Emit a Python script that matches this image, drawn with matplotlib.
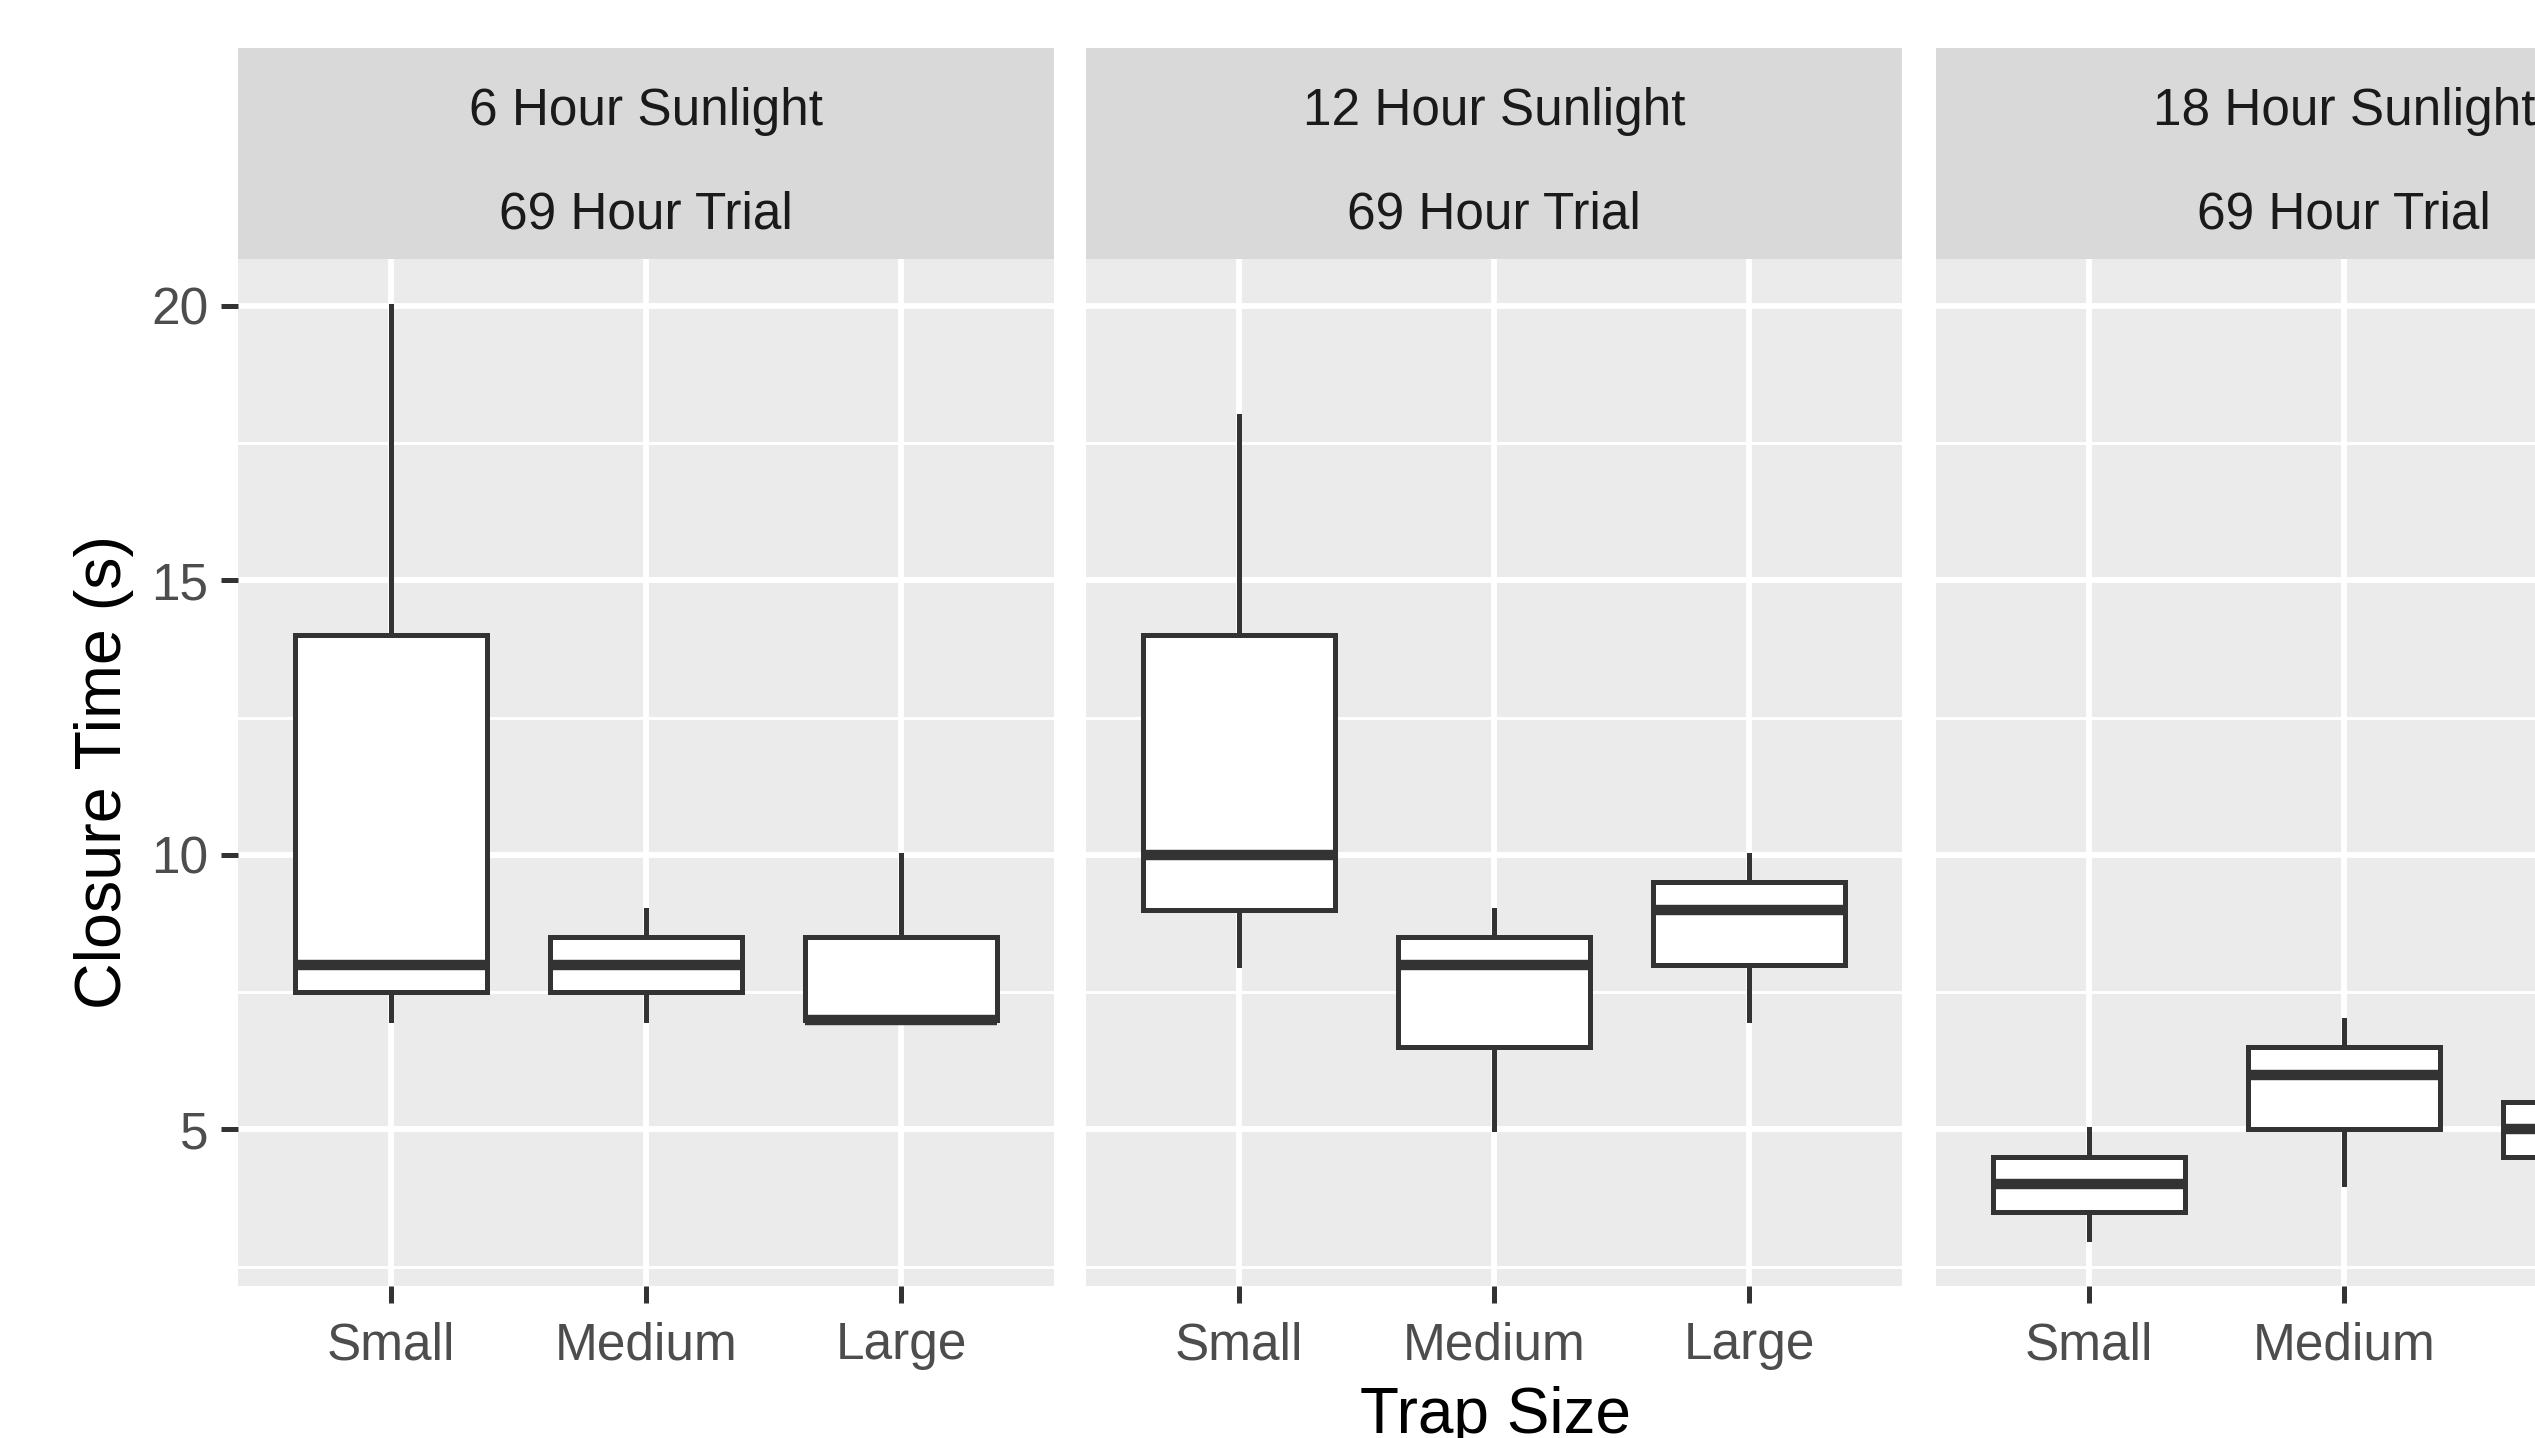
import matplotlib
matplotlib.use("Agg")
import matplotlib.pyplot as plt

plt.rcParams['font.family'] = ['Liberation Sans', 'DejaVu Sans']

# -------------------- DATA --------------------
sizes = ["Small", "Medium", "Large"]
sunlight = ["6 Hour Sunlight", "12 Hour Sunlight", "18 Hour Sunlight"]
trial = "69 Hour Trial"

# box stats per panel, one value per trap size
whislo = [[7, 7, 7], [8, 5, 7], [3, 4, 4]]
q1 = [[7.5, 7.5, 7], [9, 6.5, 8], [3.5, 5, 4.5]]
med = [[8, 8, 7], [10, 8, 9], [4, 6, 5]]
q3 = [[14, 8.5, 8.5], [14, 8.5, 9.5], [4.5, 6.5, 5.5]]
whishi = [[20, 9, 10], [18, 9, 10], [5, 7, 6]]

y_ticks = [5, 10, 15, 20]
y_minor = [2.5, 7.5, 12.5, 17.5]

# -------------------- STYLE --------------------
W, H = 2535, 1438
DPI = 100
PANEL_BG = "#EBEBEB"
STRIP_BG = "#D9D9D9"
DARK = "#333333"
TICK_TXT = "#4D4D4D"

fig = plt.figure(figsize=(W / DPI, H / DPI), dpi=DPI)

panel_left = [238, 1086, 1936]
panel_w = 816
panel_top, panel_bot = 259, 1286
strip_top = 48

for i in range(3):
    l = panel_left[i] / W
    w = panel_w / W
    ax = fig.add_axes([l, 1 - panel_bot / H, w, (panel_bot - panel_top) / H])
    ax.set_facecolor(PANEL_BG)
    for s in ax.spines.values():
        s.set_visible(False)

    stats = []
    for j, name in enumerate(sizes):
        stats.append({"label": name, "whislo": whislo[i][j], "q1": q1[i][j],
                      "med": med[i][j], "q3": q3[i][j], "whishi": whishi[i][j]})
    ax.bxp(stats, positions=[1, 2, 3], widths=0.75, showcaps=False,
           showfliers=False, patch_artist=True,
           boxprops=dict(facecolor="white", edgecolor=DARK, linewidth=3.6),
           medianprops=dict(color=DARK, linewidth=7.5, solid_capstyle="butt"),
           whiskerprops=dict(color=DARK, linewidth=3.6), zorder=3)

    ax.set_xlim(0.4, 3.6)
    ax.set_ylim(2.15, 20.85)
    ax.set_xticks([1, 2, 3])
    ax.set_xticklabels(sizes)
    ax.set_yticks(y_ticks)
    ax.set_yticks(y_minor, minor=True)
    ax.set_axisbelow(True)
    ax.grid(which="major", color="white", linewidth=4.2)
    ax.grid(which="minor", axis="y", color="white", linewidth=2.1)
    ax.tick_params(which="minor", length=0)
    ax.tick_params(axis="both", which="major", length=12.5, width=3.6,
                   color=DARK, labelsize=37, labelcolor=TICK_TXT, pad=9)
    ax.tick_params(axis="x", pad=13)
    if i > 0:
        ax.tick_params(axis="y", length=0, labelleft=False)

    # facet strip
    st = fig.add_axes([l, 1 - panel_top / H, w, (panel_top - strip_top) / H])
    st.set_facecolor(STRIP_BG)
    st.set_xticks([])
    st.set_yticks([])
    for s in st.spines.values():
        s.set_visible(False)
    st.text(0.5, 0.697, sunlight[i], ha="center", va="center",
            fontsize=37, color="#1A1A1A", transform=st.transAxes)
    st.text(0.5, 0.21, trial, ha="center", va="center",
            fontsize=37, color="#1A1A1A", transform=st.transAxes)

fig.text(104 / W, 1 - 772 / H, "Closure Time (s)", rotation=90,
         ha="center", va="center", fontsize=46.5, color="black")
fig.text(1495 / W, 1 - 1386 / H, "Trap Size", ha="center", va="top",
         fontsize=46, color="black")

fig.savefig("out.png", dpi=DPI, facecolor="white")
